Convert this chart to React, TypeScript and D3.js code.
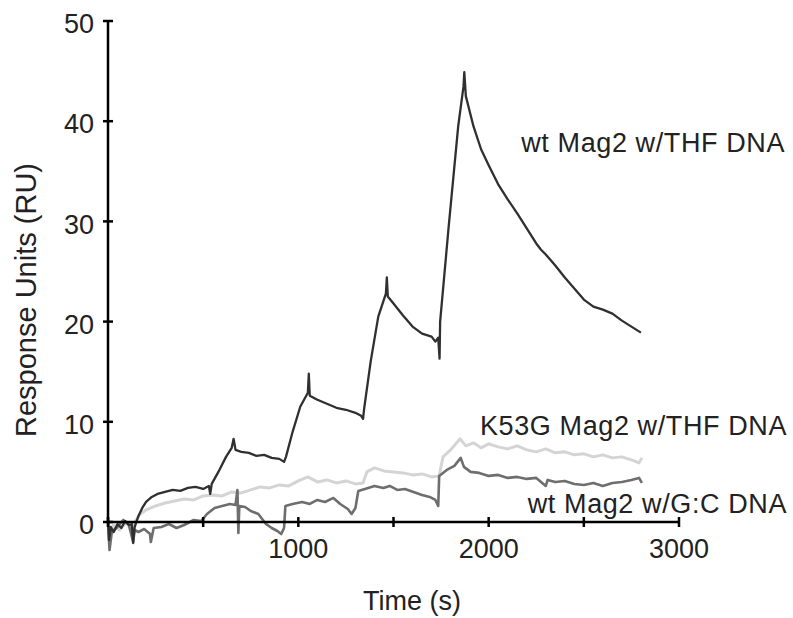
import React, { useEffect, useRef } from 'react'
import * as d3 from 'd3'

// time (s), response (RU)
const wtTHF: [number, number][] = [
  [0, 0.5], [5, -1.8], [15, -0.5], [30, -1.0], [50, -0.2], [70, -0.6], [90, 0.1], [110, -0.3], [125, -0.2],
  [132, -2.1], [140, -0.5], [160, 0.6], [180, 1.4], [200, 2.0], [230, 2.5], [260, 2.8], [300, 3.0], [340, 3.2],
  [380, 3.1], [420, 3.4], [460, 3.5], [500, 3.3], [530, 3.6], [537, 2.8], [545, 3.8], [580, 5.0], [620, 6.5],
  [650, 7.4], [660, 8.3], [670, 7.2], [700, 7.0], [740, 6.9], [780, 6.6], [820, 6.7], [860, 6.4], [900, 6.3],
  [925, 6.0], [935, 6.5], [970, 9.0], [1010, 11.5], [1050, 12.9], [1055, 14.8], [1060, 12.6], [1100, 12.2],
  [1150, 11.8], [1200, 11.4], [1250, 11.2], [1300, 10.9], [1330, 10.6], [1340, 10.3], [1345, 11.2], [1380, 16],
  [1420, 20.5], [1460, 22.8], [1465, 24.4], [1470, 22.5], [1500, 21.8], [1550, 20.6], [1600, 19.5], [1650, 18.8],
  [1700, 18.5], [1720, 18.0], [1735, 18.4], [1742, 16.3], [1745, 20], [1790, 29.5], [1840, 39.5], [1868, 43.5],
  [1872, 44.9], [1880, 42.5], [1920, 39.5], [1960, 37.2], [2000, 35.6], [2050, 33.7], [2100, 32.2], [2150, 30.8],
  [2200, 29.3], [2250, 27.8], [2274, 27.2], [2300, 26.7], [2350, 25.6], [2400, 24.4], [2450, 23.3], [2500, 22.2],
  [2550, 21.5], [2600, 21.2], [2650, 20.8], [2700, 20.1], [2750, 19.5], [2800, 18.9]
]

const k53gTHF: [number, number][] = [
  [0, 0], [10, -1.5], [30, -0.3], [60, -0.8], [100, 0], [132, -1.5], [140, 0], [170, 0.8], [200, 1.2], [250, 1.6],
  [300, 1.9], [350, 2.1], [400, 2.3], [450, 2.2], [500, 2.6], [550, 2.7], [600, 2.6], [650, 3.0], [700, 2.9],
  [750, 3.2], [800, 3.5], [850, 3.4], [900, 3.7], [950, 3.6], [1000, 4.1], [1050, 4.5], [1100, 4.0], [1150, 4.2],
  [1200, 3.9], [1250, 4.1], [1300, 3.8], [1340, 3.9], [1360, 5.0], [1400, 5.4], [1450, 5.1], [1500, 5.0],
  [1550, 4.9], [1600, 4.7], [1650, 4.8], [1700, 4.5], [1740, 4.6], [1760, 6.5], [1800, 7.2], [1850, 8.3],
  [1880, 7.6], [1920, 7.9], [1960, 7.4], [2000, 7.8], [2050, 7.5], [2100, 7.3], [2150, 7.6], [2200, 7.2],
  [2250, 7.0], [2300, 7.3], [2350, 6.9], [2400, 7.0], [2450, 6.7], [2500, 6.8], [2550, 6.5], [2600, 6.7],
  [2650, 6.4], [2700, 6.5], [2750, 6.2], [2790, 5.9], [2805, 6.4]
]

const wtGC: [number, number][] = [
  [0, 0], [8, -2.8], [20, -1.0], [50, -0.5], [80, 0.2], [110, -0.3], [132, -2.0], [140, -0.8], [160, -1.0],
  [190, -0.7], [221, -1.2], [225, -2.0], [240, -0.6], [280, -0.5], [320, -0.2], [360, -0.6], [400, -0.3],
  [450, 0.2], [490, 0.1], [520, 0.8], [560, 1.4], [600, 1.6], [640, 1.8], [670, 1.7], [680, 3.2], [685, -1.1],
  [690, 1.6], [720, 1.5], [750, 1.1], [790, 0.8], [830, -0.2], [860, -0.6], [890, -0.9], [910, -1.2], [925, -0.6],
  [932, 1.6], [970, 1.8], [1020, 2.0], [1060, 1.8], [1100, 2.2], [1140, 2.0], [1184, 2.4], [1220, 1.8],
  [1260, 1.3], [1280, 0.8], [1300, 1.4], [1315, 3.1], [1350, 3.3], [1400, 3.6], [1447, 3.4], [1480, 3.6],
  [1520, 3.2], [1560, 3.3], [1605, 3.0], [1650, 2.7], [1690, 2.5], [1720, 2.2], [1735, 1.6], [1740, 4.6],
  [1780, 5.2], [1820, 5.6], [1853, 6.4], [1870, 5.5], [1905, 5.0], [1950, 4.9], [2000, 4.6], [2050, 4.7],
  [2100, 4.4], [2150, 4.5], [2200, 4.3], [2250, 4.4], [2300, 3.6], [2310, 4.2], [2350, 4.0], [2400, 4.1],
  [2450, 3.8], [2500, 3.7], [2550, 3.9], [2600, 3.6], [2650, 3.9], [2700, 4.0], [2750, 4.2], [2790, 4.4],
  [2805, 3.9]
]

const series = [
  { name: 'K53G Mag2 w/THF DNA', data: k53gTHF, color: '#d4d4d4', width: 3, labelAt: [787, 435] },
  { name: 'wt Mag2 w/G:C DNA', data: wtGC, color: '#6e6e6e', width: 2.6, labelAt: [787, 513] },
  { name: 'wt Mag2 w/THF DNA', data: wtTHF, color: '#303030', width: 2.3, labelAt: [785, 152] }
]

const xTicks = [0, 500, 1000, 1500, 2000, 2500, 3000]
const xTickLabels = [1000, 2000, 3000]
const yTicks = [0, 10, 20, 30, 40, 50]

const font = '"Liberation Sans", Arial, Helvetica, sans-serif'

export default function App() {
  const ref = useRef<SVGSVGElement>(null)

  useEffect(() => {
    const svg = d3.select(ref.current)
    svg.selectAll('*').remove()

    const x = d3.scaleLinear().domain([0, 3000]).range([108, 679])
    const y = d3.scaleLinear().domain([0, 50]).range([522, 21])

    const line = d3.line<[number, number]>()
      .x(d => x(d[0]))
      .y(d => y(d[1]))

    // traces
    series.forEach(s => {
      svg.append('path')
        .datum(s.data)
        .attr('d', line)
        .attr('fill', 'none')
        .attr('stroke', s.color)
        .attr('stroke-width', s.width)
        .attr('stroke-linejoin', 'round')
    })

    // axes
    const axes = svg.append('g').attr('stroke', '#000').attr('stroke-width', 2.5)
    axes.append('line')
      .attr('x1', x(0)).attr('x2', x(0))
      .attr('y1', y(50)).attr('y2', y(0))
    axes.append('line')
      .attr('x1', x(0)).attr('x2', x(3000))
      .attr('y1', y(0)).attr('y2', y(0))

    axes.selectAll('.yt').data(yTicks).enter().append('line')
      .attr('x1', x(0) - 5).attr('x2', x(0) + 5)
      .attr('y1', d => y(d)).attr('y2', d => y(d))
    axes.selectAll('.xt').data(xTicks).enter().append('line')
      .attr('x1', d => x(d)).attr('x2', d => x(d))
      .attr('y1', y(0) - 5).attr('y2', y(0) + 5)

    // tick labels
    svg.selectAll('.ytl').data(yTicks).enter().append('text')
      .attr('x', x(0) - 14)
      .attr('y', d => y(d))
      .attr('dy', '0.45em')
      .attr('text-anchor', 'end')
      .attr('font-family', font)
      .attr('font-size', 27)
      .attr('fill', '#222')
      .text(d => d)

    svg.selectAll('.xtl').data(xTickLabels).enter().append('text')
      .attr('x', d => x(d))
      .attr('y', y(0) + 36)
      .attr('text-anchor', 'middle')
      .attr('font-family', font)
      .attr('font-size', 27)
      .attr('fill', '#222')
      .text(d => d)

    // axis titles
    svg.append('text')
      .attr('x', 412).attr('y', 610)
      .attr('text-anchor', 'middle')
      .attr('font-family', font)
      .attr('font-size', 27)
      .attr('fill', '#222')
      .text('Time (s)')

    svg.append('text')
      .attr('transform', 'translate(36,300) rotate(-90)')
      .attr('text-anchor', 'middle')
      .attr('font-family', font)
      .attr('font-size', 29)
      .attr('fill', '#222')
      .text('Response Units (RU)')

    // series labels
    series.forEach(s => {
      svg.append('text')
        .attr('x', s.labelAt[0]).attr('y', s.labelAt[1])
        .attr('text-anchor', 'end')
        .attr('font-family', font)
        .attr('font-size', 27)
        .attr('letter-spacing', 0.6)
        .attr('fill', '#222')
        .text(s.name)
    })
  }, [])

  return (
    <svg
      ref={ref}
      width={793}
      height={618}
      style={{ position: 'absolute', left: 0, top: 0, background: '#fff' }}
    />
  )
}
